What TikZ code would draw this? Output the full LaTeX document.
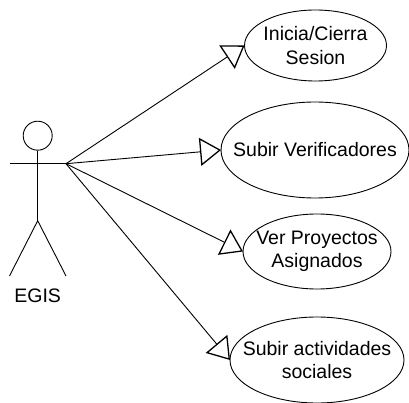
\documentclass[tikz,border=0pt]{standalone}
\usepackage{fontspec}
\setmainfont{Liberation Sans}
\usetikzlibrary{shapes.geometric,arrows.meta}
\tikzset{
  x=1pt,y=-1pt,
  stick/.style={draw=black,line width=0.9pt},
  usecase/.style={ellipse,draw=black,line width=0.9pt,inner sep=0pt,outer sep=0pt},
  uctext/.style={inner sep=0pt,align=center,font=\fontsize{19.5}{23.5}\selectfont,text=black},
  assoc/.style={draw=black,line width=0.9pt,
    -{Triangle[open,length=21pt,width=28pt,line width=1.3pt]}},
}
\begin{document}
\begin{tikzpicture}
\useasboundingbox (0,0) rectangle (409,403);
\node[usecase,minimum width=142pt,minimum height=71pt,label={[uctext]center:{Inicia/Cierra\\Sesion}}] (e1) at (315.5,45.5) {};
\node[usecase,minimum width=188pt,minimum height=96pt,label={[uctext]center:{Subir Verificadores}}] (e2) at (315,150) {};
\node[usecase,minimum width=148pt,minimum height=75pt,label={[uctext]center:{Ver Proyectos\\Asignados}}] (e3) at (317,251.5) {};
\node[usecase,minimum width=174pt,minimum height=86pt,label={[uctext]center:{Subir actividades\\sociales}}] (e4) at (317,360) {};
% actor
\node[circle,stick,minimum size=29pt,inner sep=0pt] (head) at (37.7,135.7) {};
\coordinate (neck) at (37.7,163.7);
\coordinate (handL) at (9.5,163.7);
\coordinate (handR) at (66,163.7);
\coordinate (hip) at (37.7,220.7);
\coordinate (footL) at (9.5,276);
\coordinate (footR) at (66,276);
\draw[stick] (head.south) -- (hip);
\draw[stick] (handL) -- (handR);
\draw[stick] (footL) -- (hip) -- (footR);
\node[font=\fontsize{19.5}{23.5}\selectfont,inner sep=0pt] (egis) at (37.7,296) {EGIS};
% connectors
\draw[assoc] (handR) -- (e1.west);
\draw[assoc] (handR) -- (e2.west);
\draw[assoc] (handR) -- (e3.west);
\draw[assoc] (handR) -- (e4.west);
\end{tikzpicture}
\end{document}
